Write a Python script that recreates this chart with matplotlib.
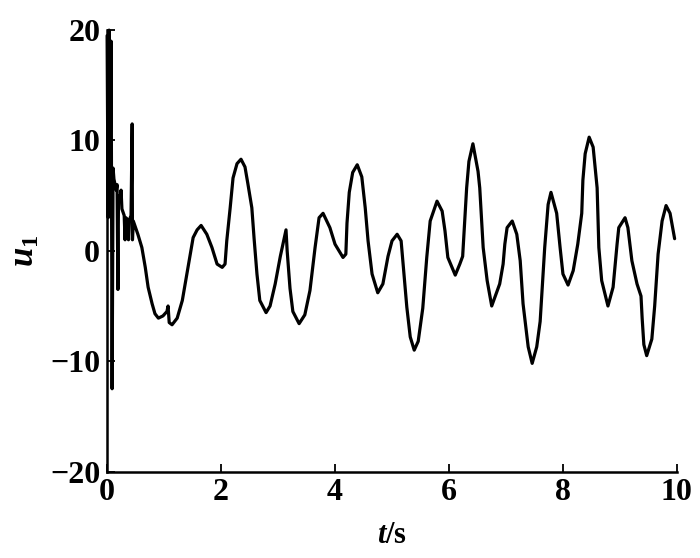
import numpy as np
import matplotlib
matplotlib.use('Agg')
import matplotlib.pyplot as plt

plt.rcParams['font.family'] = ['Liberation Serif', 'DejaVu Serif']
plt.rcParams['font.weight'] = 'bold'
plt.rcParams['mathtext.fontset'] = 'custom'
plt.rcParams['mathtext.it'] = 'Liberation Serif:italic:bold'
plt.rcParams['mathtext.rm'] = 'Liberation Serif:bold'
plt.rcParams['mathtext.bf'] = 'Liberation Serif:bold'

# start-up transient
t_start = [0.00, 0.018, 0.035, 0.053, 0.07, 0.088, 0.105, 0.12, 0.16, 0.175, 0.19, 0.20,
           0.23, 0.245, 0.26, 0.30, 0.315, 0.33, 0.36, 0.375, 0.39, 0.42, 0.44, 0.445]
u_start = [19.5, 3.0, 20.0, 7.0, 19.0, -12.5, 7.5, 6.5, 5.5, 6.0, -3.5, 5.0,
           4.5, 5.5, 3.8, 3.2, 1.0, 3.0, 2.8, 1.0, 2.8, 3.2, 11.5, 1.0]

# main oscillation
t_main = [0.46, 0.54, 0.61, 0.67, 0.72, 0.79, 0.84, 0.90, 0.98, 1.05, 1.07, 1.09, 1.14, 1.23,
          1.32, 1.40, 1.46, 1.51, 1.58, 1.65, 1.75, 1.84, 1.93, 2.02, 2.07, 2.10, 2.16, 2.21,
          2.28, 2.35, 2.42, 2.47, 2.54, 2.58, 2.63, 2.68, 2.79, 2.86, 2.95, 3.04, 3.14, 3.16,
          3.21, 3.26, 3.37, 3.47, 3.56, 3.65, 3.72, 3.79, 3.91, 4.00, 4.14, 4.19, 4.21, 4.25,
          4.31, 4.39, 4.47, 4.53, 4.58, 4.65, 4.75, 4.84, 4.93, 5.00, 5.09, 5.16, 5.21, 5.26,
          5.32, 5.39, 5.46, 5.54, 5.61, 5.67, 5.79, 5.88, 5.93, 5.98, 6.11, 6.19, 6.24, 6.31,
          6.35, 6.42, 6.51, 6.54, 6.60, 6.67, 6.75, 6.89, 6.95, 6.98, 7.02, 7.11, 7.19, 7.25,
          7.30, 7.39, 7.46, 7.54, 7.60, 7.68, 7.74, 7.79, 7.89, 7.95, 8.00, 8.09, 8.18, 8.26,
          8.33, 8.35, 8.39, 8.46, 8.53, 8.60, 8.63, 8.68, 8.79, 8.88, 8.95, 8.98, 9.09, 9.14,
          9.21, 9.30, 9.37, 9.39, 9.42, 9.47, 9.56, 9.61, 9.67, 9.74, 9.81, 9.88, 9.96]
u_main = [2.7, 1.5, 0.3, -1.5, -3.3, -4.8, -5.7, -6.1, -5.9, -5.5, -5.0, -6.5, -6.7, -6.1,
          -4.5, -2.1, -0.3, 1.2, 1.9, 2.3, 1.5, 0.3, -1.2, -1.5, -1.2, 0.9, 3.9, 6.6,
          7.9, 8.3, 7.6, 6.1, 3.9, 1.1, -2.1, -4.5, -5.6, -5.0, -3.0, -0.5, 1.9, 0.0,
          -3.4, -5.5, -6.6, -5.8, -3.6, 0.3, 3.0, 3.4, 2.1, 0.6, -0.6, -0.3, 2.5, 5.3,
          7.1, 7.8, 6.7, 3.9, 0.9, -2.1, -3.8, -3.0, -0.5, 0.9, 1.5, 0.9, -2.1, -5.1,
          -7.8, -9.0, -8.2, -5.2, -0.6, 2.7, 4.5, 3.6, 1.8, -0.6, -2.2, -1.2, -0.5, 5.7,
          8.1, 9.7, 7.2, 5.7, 0.3, -2.7, -5.0, -3.0, -1.2, 0.6, 2.1, 2.7, 1.5, -0.9,
          -4.8, -8.7, -10.2, -8.7, -6.4, 0.3, 4.2, 5.3, 3.4, 0.3, -2.1, -3.1, -1.8, 0.6,
          3.4, 6.4, 8.8, 10.3, 9.4, 5.7, 0.3, -2.7, -5.0, -3.3, 0.6, 2.1, 3.0, 2.1,
          -0.9, -3.0, -4.1, -6.1, -8.5, -9.5, -8.0, -5.0, -0.3, 2.7, 4.1, 3.4, 1.1]

x_ticks = [0, 2, 4, 6, 8, 10]
y_ticks = [-20, -10, 0, 10, 20]
y_ticklabels = ['\u221220', '\u221210', '0', '10', '20']

t = np.array(t_start + t_main)
u = np.array(u_start + u_main)

fig = plt.figure(figsize=(7, 5.58), dpi=100)
ax = fig.add_axes([0.153, 0.155, 0.814, 0.791])
ax.plot(t, u, color='black', lw=2.3, solid_joinstyle='round', solid_capstyle='round',
        clip_on=False)

ax.set_xlim(0, 10)
ax.set_ylim(-20, 20)
ax.set_xticks(x_ticks)
ax.set_yticks(y_ticks)
ax.set_yticklabels(y_ticklabels)
for s in ['top', 'right']:
    ax.spines[s].set_visible(False)
for s in ['left', 'bottom']:
    ax.spines[s].set_linewidth(1.8)
ax.tick_params(direction='in', length=6, width=1.3, labelsize=23, pad=5)
for lab in ax.get_xticklabels() + ax.get_yticklabels():
    lab.set_fontweight('bold')

ax.set_xlabel(r'$t$/s', fontsize=22, fontweight='bold', labelpad=10)
ax.set_ylabel(r'$u_1$', fontsize=25, fontweight='bold', labelpad=6)

fig.savefig('out.png', dpi=100)
